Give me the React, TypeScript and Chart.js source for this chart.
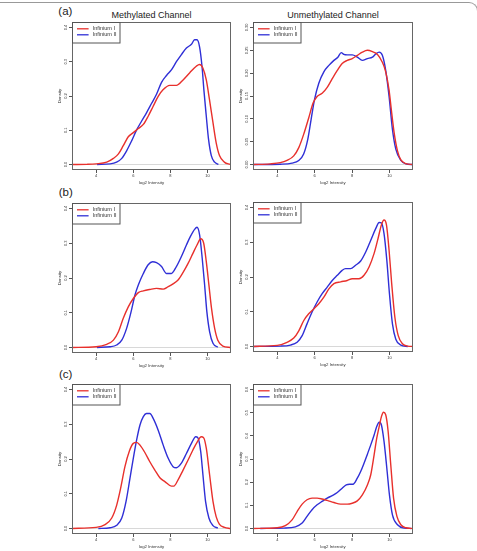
import React, { useEffect, useRef } from "react";
import { Chart, registerables } from "chart.js";

Chart.register(...registerables);

const FONT = "'Liberation Sans', Arial, Helvetica, sans-serif";

// ---------- text ----------
const seriesNames = ["Infinium I", "Infinium II"];
const seriesColors = ["#e8302c", "#2f2fd6"];
const rowTags = ["(a)", "(b)", "(c)"];
const columnTitles = ["Methylated Channel", "Unmethylated Channel"];
const xAxisTitle = "log2 Intensity";
const yAxisTitle = "Density";

// ---------- ticks ----------
const xTickValues = [4, 6, 8, 10];
const xTickLabels = ["4", "6", "8", "10"];
const yTicks04 = [0, 0.1, 0.2, 0.3, 0.4];
const yTickLabels04 = ["0.0", "0.1", "0.2", "0.3", "0.4"];
const yTicks03 = [0, 0.05, 0.1, 0.15, 0.2, 0.25, 0.3];
const yTickLabels03 = ["0.00", "0.05", "0.10", "0.15", "0.20", "0.25", "0.30"];
const yTicks06 = [0, 0.1, 0.2, 0.3, 0.4, 0.5, 0.6];
const yTickLabels06 = ["0.0", "0.1", "0.2", "0.3", "0.4", "0.5", "0.6"];
const xLimits = [2.7, 11.26];

// ---------- data: [log2 intensity, density] ----------
const aMethI = [[2.7,0],[3.5,0.0005],[4,0.002],[4.57,0.007],[4.93,0.018],[5.2,0.031],[5.46,0.055],[5.73,0.081],[6,0.093],[6.27,0.105],[6.54,0.117],[6.8,0.141],[7.07,0.17],[7.34,0.199],[7.6,0.218],[7.96,0.231],[8.32,0.231],[8.68,0.247],[9.04,0.268],[9.39,0.287],[9.57,0.292],[9.75,0.281],[9.93,0.247],[10.1,0.19],[10.29,0.122],[10.46,0.064],[10.64,0.026],[10.9,0.007],[11.18,0.001],[11.3,0]];
const aMethII = [[4.05,0],[4.75,0.002],[5.1,0.007],[5.38,0.018],[5.64,0.04],[5.91,0.069],[6.18,0.101],[6.45,0.127],[6.71,0.151],[6.98,0.178],[7.25,0.205],[7.52,0.24],[7.79,0.26],[8.05,0.276],[8.32,0.3],[8.59,0.321],[8.86,0.34],[9.13,0.351],[9.3,0.364],[9.43,0.364],[9.57,0.343],[9.7,0.286],[9.8,0.218],[9.93,0.141],[10.05,0.074],[10.2,0.026],[10.38,0.007],[10.58,0]];
const aUnmethI = [[2.7,0],[3.62,0.0014],[4.16,0.004],[4.52,0.009],[4.88,0.019],[5.15,0.037],[5.41,0.066],[5.68,0.102],[5.92,0.135],[6.13,0.149],[6.4,0.156],[6.67,0.169],[6.94,0.188],[7.21,0.206],[7.47,0.221],[7.74,0.228],[8.01,0.232],[8.28,0.239],[8.55,0.246],[8.82,0.25],[9.09,0.247],[9.36,0.241],[9.62,0.224],[9.8,0.203],[9.98,0.163],[10.1,0.12],[10.25,0.07],[10.43,0.03],[10.61,0.01],[10.88,0.002],[11.24,0]];
const aUnmethII = [[2.7,0],[4.16,0.0007],[4.79,0.003],[5.15,0.009],[5.41,0.023],[5.63,0.055],[5.81,0.099],[5.99,0.142],[6.22,0.178],[6.49,0.203],[6.76,0.217],[7.03,0.228],[7.24,0.235],[7.42,0.245],[7.56,0.241],[7.74,0.24],[8.01,0.24],[8.28,0.235],[8.55,0.228],[8.82,0.232],[9.09,0.235],[9.27,0.242],[9.45,0.246],[9.62,0.239],[9.8,0.206],[9.98,0.149],[10.16,0.077],[10.34,0.034],[10.61,0.009],[10.88,0.0014],[11.24,0]];
const bMethI = [[2.7,0],[4,0.002],[4.57,0.009],[4.93,0.021],[5.2,0.045],[5.46,0.084],[5.73,0.117],[6,0.141],[6.27,0.158],[6.54,0.163],[6.89,0.167],[7.25,0.17],[7.61,0.168],[7.88,0.175],[8.14,0.183],[8.41,0.194],[8.68,0.216],[8.95,0.242],[9.21,0.271],[9.43,0.295],[9.63,0.313],[9.79,0.3],[9.93,0.247],[10.07,0.18],[10.21,0.113],[10.38,0.055],[10.55,0.021],[10.82,0.004],[11.23,0]];
const bMethII = [[4.04,0],[4.75,0.002],[5.1,0.007],[5.38,0.021],[5.64,0.055],[5.86,0.098],[6.09,0.151],[6.27,0.18],[6.54,0.213],[6.8,0.238],[7.04,0.247],[7.25,0.244],[7.52,0.233],[7.79,0.213],[8.05,0.213],[8.32,0.233],[8.59,0.262],[8.86,0.295],[9.07,0.319],[9.3,0.34],[9.43,0.346],[9.57,0.324],[9.71,0.257],[9.84,0.18],[9.96,0.103],[10.11,0.045],[10.29,0.012],[10.55,0.001]];
const bUnmethI = [[2.7,0],[4,0.003],[4.52,0.012],[4.88,0.024],[5.15,0.045],[5.41,0.074],[5.68,0.094],[5.95,0.108],[6.22,0.123],[6.49,0.142],[6.76,0.166],[7.03,0.181],[7.39,0.186],[7.74,0.19],[8.01,0.195],[8.37,0.195],[8.64,0.205],[8.91,0.229],[9.18,0.268],[9.39,0.311],[9.57,0.35],[9.71,0.364],[9.84,0.35],[9.98,0.277],[10.12,0.181],[10.29,0.084],[10.47,0.031],[10.71,0.007],[10.98,0.001],[11.24,0]];
const bUnmethII = [[2.7,0],[4.16,0.001],[4.7,0.004],[5.06,0.012],[5.33,0.031],[5.59,0.065],[5.86,0.099],[6.13,0.128],[6.4,0.152],[6.67,0.171],[6.94,0.19],[7.21,0.205],[7.47,0.219],[7.65,0.224],[7.92,0.224],[8.19,0.234],[8.46,0.246],[8.73,0.272],[9,0.306],[9.27,0.34],[9.45,0.357],[9.57,0.356],[9.71,0.325],[9.86,0.248],[10,0.152],[10.16,0.065],[10.34,0.021],[10.61,0.004],[10.98,0]];
const cMethI = [[2.7,0],[4,0.003],[4.48,0.011],[4.84,0.03],[5.11,0.068],[5.32,0.116],[5.55,0.178],[5.79,0.223],[6,0.245],[6.18,0.248],[6.36,0.24],[6.63,0.218],[6.89,0.192],[7.16,0.168],[7.43,0.146],[7.7,0.135],[8.05,0.122],[8.18,0.122],[8.41,0.14],[8.68,0.168],[8.95,0.197],[9.21,0.226],[9.43,0.248],[9.66,0.264],[9.79,0.261],[9.93,0.231],[10.11,0.154],[10.29,0.078],[10.46,0.034],[10.64,0.012],[10.91,0.003],[11.23,0]];
const cMethII = [[4.12,0],[4.75,0.002],[5.11,0.009],[5.38,0.03],[5.61,0.078],[5.82,0.144],[6,0.202],[6.18,0.255],[6.36,0.298],[6.54,0.322],[6.71,0.331],[6.89,0.331],[7.07,0.317],[7.34,0.283],[7.61,0.24],[7.88,0.202],[8.14,0.178],[8.32,0.175],[8.59,0.188],[8.86,0.216],[9.13,0.245],[9.36,0.264],[9.48,0.261],[9.63,0.221],[9.75,0.154],[9.89,0.078],[10.07,0.03],[10.29,0.008],[10.55,0.001]];
const cUnmethI = [[2.7,0],[4,0.003],[4.43,0.012],[4.79,0.037],[5.06,0.073],[5.33,0.105],[5.59,0.124],[5.86,0.131],[6.13,0.131],[6.4,0.127],[6.67,0.121],[7.03,0.112],[7.39,0.105],[7.74,0.105],[8.01,0.109],[8.28,0.119],[8.55,0.145],[8.82,0.188],[9,0.232],[9.18,0.318],[9.32,0.39],[9.45,0.44],[9.57,0.483],[9.68,0.502],[9.8,0.491],[9.93,0.419],[10.07,0.275],[10.22,0.131],[10.4,0.052],[10.61,0.016],[10.88,0.003],[11.24,0]];
const cUnmethII = [[3.09,0],[4.34,0.0015],[4.97,0.007],[5.33,0.023],[5.59,0.052],[5.86,0.081],[6.13,0.102],[6.4,0.117],[6.67,0.131],[6.94,0.142],[7.21,0.155],[7.47,0.174],[7.69,0.188],[7.87,0.191],[8.05,0.191],[8.28,0.217],[8.46,0.246],[8.64,0.282],[8.82,0.321],[9,0.361],[9.18,0.404],[9.32,0.44],[9.45,0.459],[9.57,0.447],[9.71,0.376],[9.86,0.26],[10,0.145],[10.16,0.059],[10.43,0.016],[10.79,0.0014],[11.15,0]];

// ---------- panel layout ----------
type Panel = {
  L: number; T: number; R: number; B: number;
  series: number[][][];
  yTicks: number[]; yLabels: string[]; yTop: number; yPad: number;
};

const panels: Panel[] = [
  { L: 72, T: 22, R: 231, B: 170, series: [aMethI, aMethII], yTicks: yTicks04, yLabels: yTickLabels04, yTop: 0.4, yPad: 0.2 },
  { L: 253, T: 22, R: 413, B: 170, series: [aUnmethI, aUnmethII], yTicks: yTicks03, yLabels: yTickLabels03, yTop: 0.3, yPad: -0.9 },
  { L: 72, T: 203, R: 231, B: 353, series: [bMethI, bMethII], yTicks: yTicks04, yLabels: yTickLabels04, yTop: 0.4, yPad: 0.2 },
  { L: 253, T: 202, R: 413, B: 352, series: [bUnmethI, bUnmethII], yTicks: yTicks04, yLabels: yTickLabels04, yTop: 0.4, yPad: 0.2 },
  { L: 72, T: 384, R: 231, B: 534, series: [cMethI, cMethII], yTicks: yTicks04, yLabels: yTickLabels04, yTop: 0.4, yPad: 0.2 },
  { L: 253, T: 384, R: 413, B: 534, series: [cUnmethI, cUnmethII], yTicks: yTicks06, yLabels: yTickLabels06, yTop: 0.6, yPad: 0.2 },
];

const PAD_L = 24, PAD_T = 6, PAD_R = 6, PAD_B = 20;

const boxPlugin = {
  id: "rbox",
  afterDatasetsDraw(chart: any) {
    const { ctx, chartArea: a } = chart;
    ctx.save();
    ctx.strokeStyle = "#666";
    ctx.lineWidth = 1;
    ctx.strokeRect(a.left + 0.5, a.top + 0.5, a.right - a.left - 1, a.bottom - a.top - 1);
    ctx.restore();
  },
};

const legendPlugin = {
  id: "rlegend",
  afterDraw(chart: any) {
    const { ctx, chartArea: a } = chart;
    ctx.save();
    ctx.fillStyle = "#fff";
    ctx.fillRect(a.left + 1, a.top + 1, 47, 20);
    ctx.strokeStyle = "#555";
    ctx.lineWidth = 1;
    ctx.strokeRect(a.left + 0.5, a.top + 0.5, 47.5, 20.5);
    chart.data.datasets.forEach((ds: any, i: number) => {
      const y = a.top + 6.8 + i * 6;
      ctx.strokeStyle = ds.borderColor;
      ctx.lineWidth = 1.3;
      ctx.beginPath();
      ctx.moveTo(a.left + 5, y);
      ctx.lineTo(a.left + 16.6, y);
      ctx.stroke();
      ctx.fillStyle = "#333";
      ctx.font = `5.5px ${FONT}`;
      ctx.textBaseline = "middle";
      ctx.textAlign = "left";
      ctx.fillText(ds.label, a.left + 20.6, y);
    });
    ctx.restore();
  },
};

function pickLabel(values: number[], labels: string[], v: number) {
  let best = 0;
  for (let i = 0; i < values.length; i++) {
    if (Math.abs(values[i] - v) < Math.abs(values[best] - v)) best = i;
  }
  return labels[best];
}

function DensityPanel({ p }: { p: Panel }) {
  const ref = useRef<HTMLCanvasElement | null>(null);
  const W = p.R - p.L + PAD_L + PAD_R;
  const H = p.B - p.T + PAD_T + PAD_B;
  useEffect(() => {
    if (!ref.current) return;
    const chart = new Chart(ref.current, {
      type: "line",
      data: {
        datasets: p.series.map((s, i) => ({
          label: seriesNames[i],
          data: s.map(([x, y]) => ({ x, y })),
          borderColor: seriesColors[i],
          backgroundColor: seriesColors[i],
          borderWidth: 1.4,
          pointRadius: 0,
          fill: false,
          cubicInterpolationMode: "monotone" as const,
        })),
      },
      options: {
        animation: false,
        responsive: false,
        devicePixelRatio: 1,
        layout: { padding: { left: 0, top: PAD_T, right: PAD_R, bottom: 0 } },
        plugins: { legend: { display: false }, tooltip: { enabled: false } },
        scales: {
          x: {
            type: "linear",
            min: xLimits[0],
            max: xLimits[1],
            afterBuildTicks: (s: any) => {
              s.ticks = xTickValues.map((v) => ({ value: v }));
            },
            afterFit: (s: any) => {
              s.height = PAD_B;
            },
            border: { display: false },
            grid: { drawOnChartArea: false, tickLength: 3, tickColor: "#555", lineWidth: 1 },
            ticks: {
              autoSkip: false,
              maxRotation: 0,
              padding: 0.5,
              color: "#333",
              font: { size: 4, family: FONT },
              callback: (v: any) => pickLabel(xTickValues, xTickLabels, Number(v)),
            },
            title: {
              display: true,
              text: xAxisTitle,
              color: "#333",
              font: { size: 4.3, family: FONT },
              padding: { top: 0, bottom: 4.4 },
            },
          },
          y: {
            type: "linear",
            min: -0.04 * p.yTop,
            max: 1.04 * p.yTop,
            afterBuildTicks: (s: any) => {
              s.ticks = p.yTicks.map((v) => ({ value: v }));
            },
            afterFit: (s: any) => {
              s.width = PAD_L;
            },
            border: { display: false },
            grid: {
              drawOnChartArea: true,
              tickLength: 3,
              tickColor: "#555",
              lineWidth: 1,
              color: (c: any) => (c.tick && Math.abs(c.tick.value) < 1e-9 ? "#d8d8d8" : "rgba(0,0,0,0)"),
            },
            ticks: {
              autoSkip: false,
              minRotation: 90,
              maxRotation: 90,
              crossAlign: "center",
              padding: p.yPad,
              color: "#333",
              font: { size: 4, family: FONT },
              callback: (v: any) => pickLabel(p.yTicks, p.yLabels, Number(v)),
            },
            title: {
              display: true,
              text: yAxisTitle,
              color: "#333",
              font: { size: 4.3, family: FONT },
              padding: { top: 9, bottom: 0 },
            },
          },
        },
      },
      plugins: [boxPlugin, legendPlugin],
    } as any);
    return () => chart.destroy();
  }, []);
  return (
    <canvas
      ref={ref}
      width={W}
      height={H}
      style={{ position: "absolute", left: p.L - PAD_L, top: p.T - PAD_T, width: W, height: H }}
    />
  );
}

const tagTops = [6.2, 187.2, 368.6];
const tagLefts = [58.3, 58.7, 59];

export default function App() {
  return (
    <div
      style={{
        position: "absolute",
        left: 0,
        top: 0,
        width: 477,
        height: 551,
        overflow: "hidden",
        background: "#fff",
        fontFamily: FONT,
      }}
    >
      <div
        style={{
          position: "absolute",
          left: -5,
          top: 2,
          width: 483,
          height: 120,
          boxSizing: "border-box",
          borderTop: "1px solid #999",
          borderRight: "1px solid #999",
          borderTopRightRadius: 9,
        }}
      />
      {rowTags.map((t, i) => (
        <div
          key={t}
          style={{
            position: "absolute",
            left: tagLefts[i],
            top: tagTops[i],
            fontSize: 11.5,
            lineHeight: 1,
            color: "#222",
            whiteSpace: "nowrap",
          }}
        >
          {t}
        </div>
      ))}
      {columnTitles.map((t, i) => (
        <div
          key={t}
          style={{
            position: "absolute",
            left: i === 0 ? 151.5 : 333,
            top: 10.7,
            transform: "translateX(-50%)",
            fontSize: 9,
            lineHeight: 1,
            color: "#222",
            whiteSpace: "nowrap",
          }}
        >
          {t}
        </div>
      ))}
      {panels.map((p, i) => (
        <DensityPanel key={i} p={p} />
      ))}
    </div>
  );
}
